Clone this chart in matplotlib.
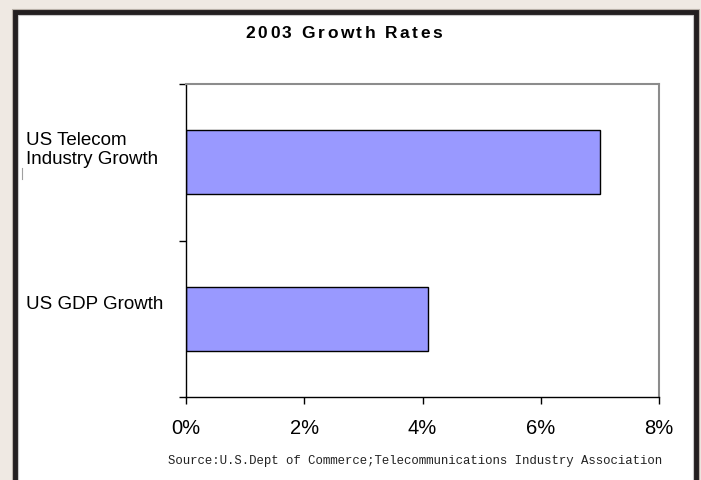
import matplotlib
matplotlib.use("Agg")
import matplotlib.pyplot as plt
from matplotlib.patches import Rectangle
from matplotlib.lines import Line2D
from matplotlib.font_manager import FontProperties
import matplotlib.transforms as mtransforms

# Data
categories = ["US GDP Growth", "US Telecom\nIndustry Growth"]
values = [4.1, 7.0]
xticks = [0, 2, 4, 6, 8]
xtick_labels = ["0%", "2%", "4%", "6%", "8%"]
title = "2003 Growth Rates"
source = "Source:U.S.Dept of Commerce;Telecommunications Industry Association"

W, H = 701, 480
fig = plt.figure(figsize=(W / 100, H / 100), dpi=100)
fig.patch.set_facecolor("#efe9e3")


def px_rect(x0, y0, x1, y1, z, **kw):
    """Rectangle given in pixel coordinates (origin top-left)."""
    r = Rectangle((x0 / W, 1 - y1 / H), (x1 - x0) / W, (y1 - y0) / H,
                  transform=fig.transFigure, zorder=z, **kw)
    fig.patches.append(r)


def spaced_text(xc, yc, s, prop, spacing_px, **kw):
    """Draw a string centred at pixel (xc, yc) with extra letter spacing."""
    renderer = fig.canvas.get_renderer()

    def width(t):
        w, _, _ = renderer.get_text_width_height_descent(t, prop, ismath=False)
        return w

    lefts = []
    for i, ch in enumerate(s):
        left = width(s[:i + 1]) - width(ch) if ch != " " else None
        lefts.append(left)
    total = width(s) + spacing_px * (len(s) - 1)
    x0 = xc - total / 2
    for i, ch in enumerate(s):
        if ch == " ":
            continue
        fig.text((x0 + lefts[i] + spacing_px * i) / W, 1 - yc / H, ch,
                 fontproperties=prop, ha="left", va="center", **kw)


# Dark frame with white panel inside
px_rect(11.5, 8.5, 699, 500, -3, facecolor="#231f20", edgecolor="#b8b0a8", linewidth=0.8)
px_rect(17.5, 14.5, 693, 500, -2, facecolor="white", edgecolor="#c8c8c8", linewidth=0.8)

ax = fig.add_axes([186 / W, 1 - 397 / H, (659 - 186) / W, (397 - 84) / H])
ax.set_facecolor("white")

ypos = list(range(len(categories)))
ax.barh(ypos, values, height=0.41, color="#9999ff", edgecolor="black",
        linewidth=1.0, zorder=2)

ax.set_xlim(0, 8)
ax.set_ylim(-0.5, len(categories) - 0.5)
ax.set_xticks(xticks)
ax.set_xticklabels(xtick_labels, fontsize=14.5, fontfamily="Liberation Sans")
ax.set_yticks([-0.5, 0.5, 1.5])
ax.set_yticklabels([])
ax.tick_params(axis="x", direction="out", length=5, width=1, pad=10.5, colors="black")
ax.tick_params(axis="y", direction="out", length=5, width=1, colors="black")

for side in ("left", "bottom"):
    ax.spines[side].set_color("black")
    ax.spines[side].set_linewidth(1.0)
for side in ("top", "right"):
    ax.spines[side].set_color("#8c8c8c")
    ax.spines[side].set_linewidth(1.5)

# Category labels, left aligned near the frame
blend = mtransforms.blended_transform_factory(fig.transFigure, ax.transData)
for y, lab in zip(ypos, categories):
    lift = 10 if "\n" not in lab else 8.5
    lab_tr = mtransforms.offset_copy(blend, fig=fig, x=0, y=lift, units="points")
    ax.text(26 / W, y, lab, transform=lab_tr, ha="left", va="center",
            fontsize=13.5, fontfamily="Liberation Sans", linespacing=1.15)

title_prop = FontProperties(family="Liberation Sans", weight="bold", size=12.5)
spaced_text(344, 34, title, title_prop, 2.5, color="black")

fig.text(415 / W, 1 - 461 / H, source, ha="center", va="center",
         fontsize=8.9, fontfamily="Liberation Mono", color="#222222")

fig.lines.append(Line2D([22 / W, 22 / W], [1 - 168 / H, 1 - 179 / H],
                        transform=fig.transFigure, color="#a0a0a0", linewidth=0.8))

fig.savefig("out.png", dpi=100, facecolor=fig.get_facecolor())
